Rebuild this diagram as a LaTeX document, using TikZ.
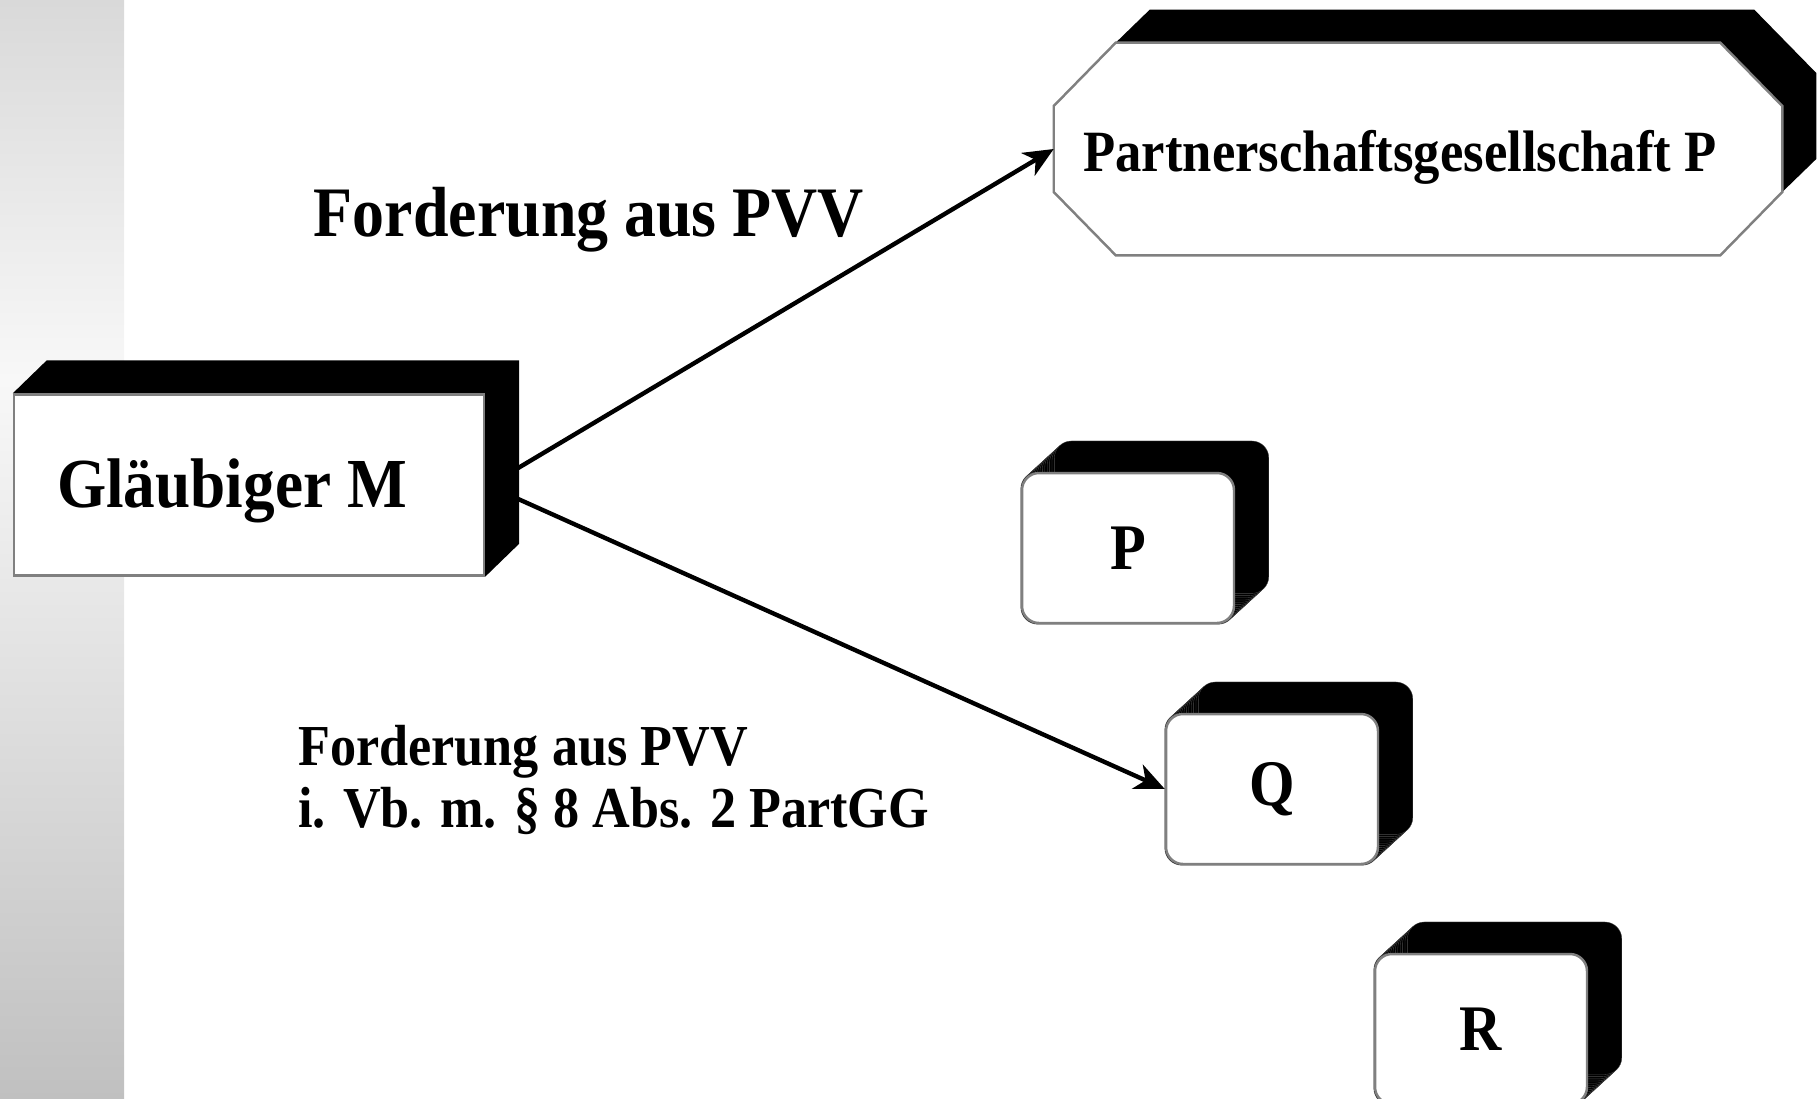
\documentclass[tikz,border=0pt]{standalone}
\usepackage{fontspec}
\setmainfont[FakeStretch=0.9]{Liberation Serif}
\usetikzlibrary{arrows.meta,backgrounds,calc}
\definecolor{rimgray}{HTML}{808080}
\definecolor{striptop}{HTML}{D9D9D9}
\definecolor{stripmid}{HTML}{F8F8F8}
\definecolor{stripbot}{HTML}{C0C0C0}
\tikzset{
  box/.style={draw=rimgray, line width=1.4pt, fill=white, inner sep=0pt},
  slab/.style={box, minimum width=9.4cm, minimum height=3.62cm},
  cube/.style={box, rounded corners=0.34cm, minimum width=4.24cm, minimum height=3cm,
    font=\fontsize{37}{42}\selectfont\bfseries},
  claim/.style={inner sep=0pt, font=\fontsize{40.4}{46}\selectfont\bfseries},
  arr/.style={-{Stealth[length=17pt,width=15pt,inset=5pt]}, line width=2.5pt},
}
\begin{document}
\begin{tikzpicture}[x=0.02cm, y=-0.02cm]
  \useasboundingbox (0,0) rectangle (1820,1099);
  % parties
  \node[slab] (gm) at (249,485) {};
  \node[inner sep=0pt, font=\fontsize{40}{46}\selectfont\bfseries]
    (gmtext) at ([shift={(-17,6)}]gm.center) {Gläubiger M};
  \node[inner sep=0pt, minimum width=14.56cm, minimum height=4.24cm] (pg) at (1418,149) {};
  \node[inner sep=0pt, font=\fontsize{33.3}{38}\selectfont\bfseries]
    (pgtext) at ([shift={(-18,8)}]pg.center) {Partnerschaftsgesellschaft P};
  \node[cube] (p) at (1128,548) {P};
  \node[cube] (q) at (1272,789) {Q};
  \node[cube] (r) at (1481,1029) {R};
  % claims
  \node[claim, anchor=base] (c1) at (589,236) {Forderung aus PVV};
  \node[claim, font=\fontsize{33}{35.1}\selectfont\bfseries, align=left, anchor=west]
    (c2) at (298,780) {Forderung aus PVV\\i. Vb. m. § 8 Abs. 2 PartGG};
  \draw[arr] ([shift={(33,-17)}]gm.east) -- (pg.west);
  \draw[arr] ([shift={(33,14)}]gm.east) -- (q.west);
  \begin{scope}[on background layer]
    \shade[top color=striptop, bottom color=stripmid] (0,0) rectangle (124,380);
    \shade[top color=stripmid, bottom color=stripbot] (0,380) rectangle (124,1099);
    % depth of the boxes
    \fill (gm.north west) -- ++(34,-33) -- ($(gm.north east)+(34,-33)$)
      -- ($(gm.south east)+(34,-33)$) -- (gm.south east) -- (gm.north east) -- cycle;
    \fill ($(pg.north west)+(62,0)$) -- ++(34,-33) -- ($(pg.north east)+(-28,-33)$)
      -- ($(pg.east)+(34,-76)$) -- ($(pg.east)+(34,10)$) -- ($(pg.east)+(0,43)$)
      -- ($(pg.east)+(0,-43)$) -- ($(pg.north east)+(-62,0)$) -- cycle;
    \foreach \b in {p,q,r}
      \foreach \k in {0,...,14}
        \filldraw[draw=black!70, line width=0.2pt, rounded corners=0.34cm]
          ($(\b.south west)+(\k*2.4,-\k*2.2)$) rectangle ($(\b.north east)+(\k*2.4,-\k*2.2)$);
    \filldraw[fill=white, draw=rimgray, line width=1.4pt]
      ($(pg.north west)+(62,0)$) -- ($(pg.north east)+(-62,0)$) -- ($(pg.east)+(0,-43)$)
      -- ($(pg.east)+(0,43)$) -- ($(pg.south east)+(-62,0)$) -- ($(pg.south west)+(62,0)$)
      -- ($(pg.west)+(0,43)$) -- ($(pg.west)+(0,-43)$) -- cycle;
  \end{scope}
\end{tikzpicture}
\end{document}
